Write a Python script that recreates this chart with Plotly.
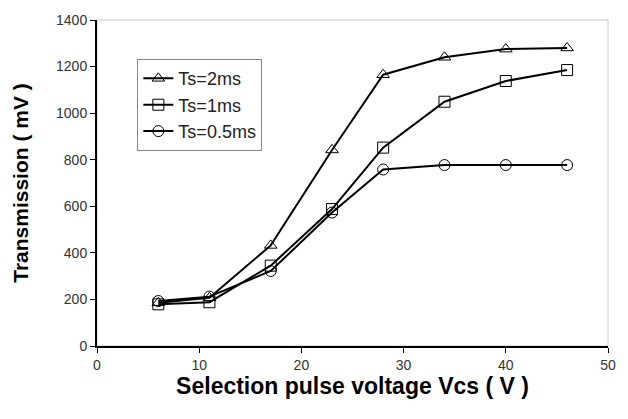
import plotly.graph_objects as go

voltage = [6, 11, 17, 23, 28, 34, 40, 46]
ts_2ms = [186, 207, 432, 842, 1165, 1240, 1275, 1280]
ts_1ms = [179, 188, 345, 588, 852, 1049, 1138, 1185]
ts_05ms = [193, 212, 322, 573, 758, 777, 777, 777]

series = [
    ("Ts=2ms", ts_2ms, "triangle-up-open"),
    ("Ts=1ms", ts_1ms, "square-open"),
    ("Ts=0.5ms", ts_05ms, "circle-open"),
]

fig = go.Figure()
for name, vals, sym in series:
    fig.add_trace(go.Scatter(
        x=voltage, y=vals, name=name, legendgroup=name, mode="lines+markers",
        line=dict(color="black", width=2),
        marker=dict(symbol=sym, size=11, color="black",
                    line=dict(color="black", width=1)),
    ))

fig.update_layout(
    width=628, height=419,
    margin=dict(l=97, r=14, t=19, b=73),
    paper_bgcolor="white", plot_bgcolor="white",
    font=dict(family="Liberation Sans, Arial, sans-serif", color="black", size=14),
    showlegend=True,
    legend=dict(x=0.079, y=0.88, xanchor="left", yanchor="top",
                bgcolor="white", bordercolor="#888888", borderwidth=1,
                font=dict(size=18, color="#222222"),
                itemwidth=30, tracegroupgap=0),
    shapes=[dict(type="rect", xref="paper", yref="paper", x0=0, y0=0, x1=1, y1=1,
                 line=dict(color="#c8c8c8", width=1), layer="below")],
)
fig.update_xaxes(
    range=[0, 50], tickvals=[0, 10, 20, 30, 40, 50], showgrid=False, zeroline=False,
    showline=True, linecolor="black", linewidth=2, ticks="outside", ticklen=5,
    tickcolor="black", tickfont=dict(size=14, color="#333333"),
    title=dict(text="<b>Selection pulse voltage Vcs ( V )</b>", font=dict(size=23), standoff=5),
)
fig.update_yaxes(
    range=[0, 1400], tickvals=list(range(0, 1401, 200)), showgrid=False, zeroline=False,
    showline=True, linecolor="black", linewidth=2, ticks="outside", ticklen=5,
    tickcolor="black", tickfont=dict(size=14, color="#333333"),
    title=dict(text="<b>Transmission ( mV )</b>", font=dict(size=21), standoff=22),
)

fig.write_html("out.html")
